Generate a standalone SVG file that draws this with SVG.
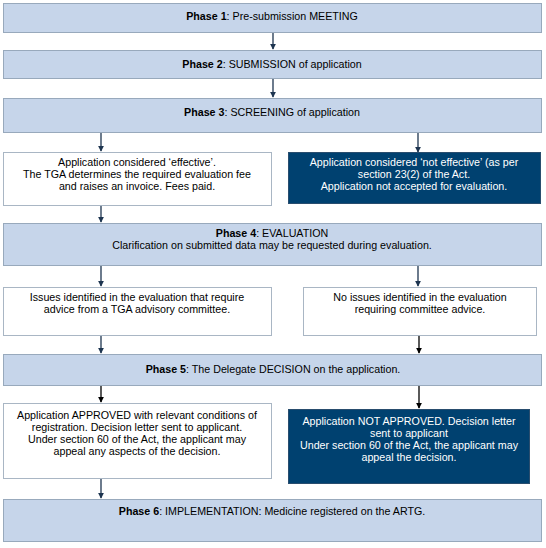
<svg xmlns="http://www.w3.org/2000/svg" width="546" height="548" viewBox="0 0 546 548">
<style>
text{font-family:"Liberation Sans",Arial,sans-serif;font-size:10.7px;text-anchor:middle;fill:#000}
.ph{fill:#c6d5ea;stroke:#98a9bc;stroke-width:1}
.wb{fill:#ffffff;stroke:#a9b6c4;stroke-width:1}
.db{fill:#004170;stroke:#294d6e;stroke-width:1}
.dt{fill:#ffffff}
.c{stroke:#1e3550;stroke-width:1.3;fill:none}
.k{stroke:#000;stroke-width:1.3;fill:none}
</style>
<defs>
<marker id="an" viewBox="0 0 8 8" refX="7" refY="4" markerWidth="6" markerHeight="6" orient="auto" markerUnits="userSpaceOnUse"><path d="M0,0 L8,4 L0,8 z" fill="#1e3550"/></marker>
<marker id="ak" viewBox="0 0 8 8" refX="7" refY="4" markerWidth="6" markerHeight="6" orient="auto" markerUnits="userSpaceOnUse"><path d="M0,0 L8,4 L0,8 z" fill="#000"/></marker>
</defs>
<rect width="546" height="548" fill="#fff"/>
<g id="connectors">
<line class="c" x1="273" y1="32" x2="273" y2="49" marker-end="url(#an)"/>
<line class="c" x1="273" y1="79" x2="273" y2="97" marker-end="url(#an)"/>
<line class="c" x1="101" y1="133" x2="101" y2="151" marker-end="url(#an)"/>
<line class="c" x1="418" y1="133" x2="418" y2="152" marker-end="url(#an)"/>
<line class="c" x1="101" y1="206" x2="101" y2="222" marker-end="url(#an)"/>
<line class="c" x1="101" y1="266" x2="101" y2="286" marker-end="url(#an)"/>
<line class="c" x1="418" y1="266" x2="418" y2="286" marker-end="url(#an)"/>
<line class="c" x1="101" y1="336" x2="101" y2="353" marker-end="url(#an)"/>
<line class="k" x1="419" y1="336" x2="419" y2="353" marker-end="url(#ak)"/>
<line class="k" x1="101" y1="386" x2="101" y2="402" marker-end="url(#ak)"/>
<line class="k" x1="419" y1="386" x2="419" y2="408" marker-end="url(#ak)"/>
<line class="c" x1="101" y1="479" x2="101" y2="498" marker-end="url(#an)"/>
</g>
<g id="phase1">
<rect class="ph" x="3.5" y="3.5" width="538" height="29"/>
<text x="272" y="19.5"><tspan font-weight="bold">Phase 1</tspan>: Pre-submission MEETING</text>
</g>
<g id="phase2">
<rect class="ph" x="3.5" y="50.5" width="538" height="28"/>
<text x="272" y="68"><tspan font-weight="bold">Phase 2</tspan>: SUBMISSION of application</text>
</g>
<g id="phase3">
<rect class="ph" x="3.5" y="98.5" width="538" height="34"/>
<text x="272" y="116"><tspan font-weight="bold">Phase 3</tspan>: SCREENING of application</text>
</g>
<g id="effective">
<rect class="wb" x="3.5" y="152.5" width="268" height="53"/>
<text x="137" y="166">Application considered ‘effective’.</text>
<text x="137" y="178">The TGA determines the required evaluation fee</text>
<text x="137" y="190">and raises an invoice. Fees paid.</text>
</g>
<g id="not-effective">
<rect class="db" x="288.5" y="152.5" width="252" height="51"/>
<text class="dt" x="414" y="166">Application considered ‘not effective’ (as per</text>
<text class="dt" x="414" y="178">section 23(2) of the Act.</text>
<text class="dt" x="414" y="190">Application not accepted for evaluation.</text>
</g>
<g id="phase4">
<rect class="ph" x="3.5" y="223.5" width="538" height="42"/>
<text x="272" y="237"><tspan font-weight="bold">Phase 4</tspan>: EVALUATION</text>
<text x="272" y="249">Clarification on submitted data may be requested during evaluation.</text>
</g>
<g id="issues">
<rect class="wb" x="3.5" y="287.5" width="268" height="48"/>
<text x="137" y="301">Issues identified in the evaluation that require</text>
<text x="137" y="313">advice from a TGA advisory committee.</text>
</g>
<g id="no-issues">
<rect class="wb" x="303.5" y="287.5" width="233" height="48"/>
<text x="420" y="301">No issues identified in the evaluation</text>
<text x="420" y="313">requiring committee advice.</text>
</g>
<g id="phase5">
<rect class="ph" x="3.5" y="354.5" width="538" height="31"/>
<text x="273" y="373"><tspan font-weight="bold">Phase 5</tspan>: The Delegate DECISION on the application.</text>
</g>
<g id="approved">
<rect class="wb" x="3.5" y="403.5" width="268" height="75"/>
<text x="137" y="419">Application APPROVED with relevant conditions of</text>
<text x="137" y="431">registration. Decision letter sent to applicant.</text>
<text x="137" y="443">Under section 60 of the Act, the applicant may</text>
<text x="137" y="455">appeal any aspects of the decision.</text>
</g>
<g id="not-approved">
<rect class="db" x="288.5" y="409.5" width="241" height="74"/>
<text class="dt" x="409" y="425">Application NOT APPROVED. Decision letter</text>
<text class="dt" x="409" y="437">sent to applicant</text>
<text class="dt" x="409" y="449">Under section 60 of the Act, the applicant may</text>
<text class="dt" x="409" y="461">appeal the decision.</text>
</g>
<g id="phase6">
<rect class="ph" x="3.5" y="499.5" width="538" height="42"/>
<text x="272" y="515"><tspan font-weight="bold">Phase 6</tspan>: IMPLEMENTATION: Medicine registered on the ARTG.</text>
</g>
</svg>
